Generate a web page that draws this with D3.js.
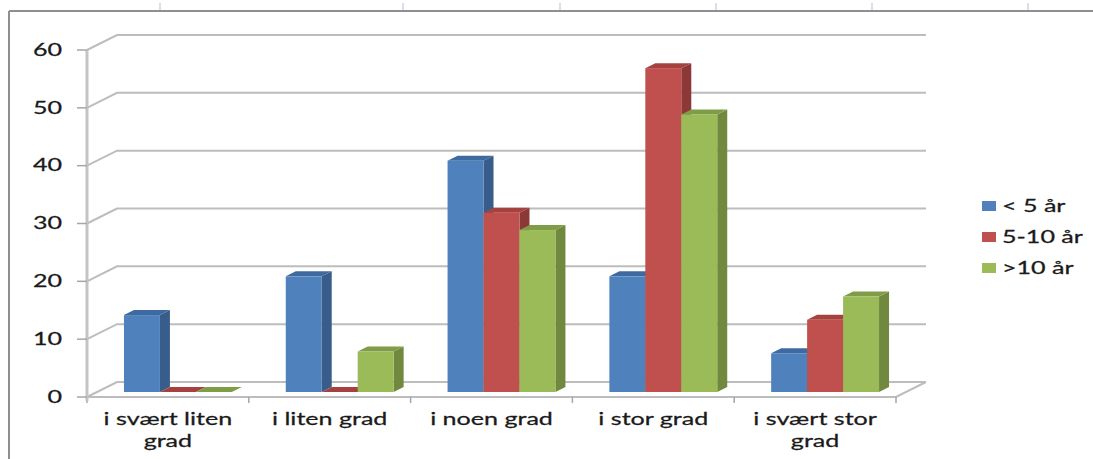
<!DOCTYPE html>
<html>
<head>
<meta charset="utf-8">
<script src="https://cdn.jsdelivr.net/npm/d3@7"></script>
<style>
  body { margin: 0; background: #fff; }
  svg { display: block; }
  text { font-family: Lato, "Liberation Sans", sans-serif; fill: #1a1a1a; stroke: #1a1a1a; stroke-width: 0.25px; }
</style>
</head>
<body>
<div id="chart"></div>
<script>
// data
var categories = ["i svært liten grad", "i liten grad", "i noen grad", "i stor grad", "i svært stor grad"];
var categoryLines = [["i svært liten", "grad"], ["i liten grad"], ["i noen grad"], ["i stor grad"], ["i svært stor", "grad"]];
var series = ["< 5 år", "5-10 år", ">10 år"];
var under5 = [13.3, 20, 40, 20, 6.7];
var from5to10 = [0, 0, 31, 56, 12.5];
var over10 = [0, 7, 28, 48, 16.5];
var yTicks = [0, 10, 20, 30, 40, 50, 60];

var values = [under5, from5to10, over10];
var front = ["#4f81bd", "#c0504d", "#9bbb59"];
var side = ["#385d8a", "#8c3836", "#71893f"];
var top_ = ["#3f6aa0", "#a5423f", "#7f9c47"];

var width = 1093, height = 459;
var depthX = 30, depthY = 15;   // floor depth
var textStretch = 1.52;

var svg = d3.select("#chart").append("svg")
  .attr("width", width)
  .attr("height", height);

var x = d3.scaleBand().domain(categories).range([87, 896]);
var y = d3.scaleLinear().domain([0, 60]).range([397, 50]);
var barW = x.bandwidth() / 4.5;
var groupOff = (x.bandwidth() - 3 * barW) / 2;

// outer frame remnants
svg.append("line").attr("x1", 9).attr("y1", 11).attr("x2", width).attr("y2", 11)
  .attr("stroke", "#8f8f8f").attr("stroke-width", 2);
svg.append("line").attr("x1", 9).attr("y1", 11).attr("x2", 9).attr("y2", height)
  .attr("stroke", "#8f8f8f").attr("stroke-width", 2);
[160, 403, 560, 716, 872, 1028].forEach(function(tx) {
  svg.append("line").attr("x1", tx).attr("y1", 3).attr("x2", tx).attr("y2", 10)
    .attr("stroke", "#c9d5e6").attr("stroke-width", 1.5);
});

// back wall gridlines + side wall diagonals
var grid = svg.append("g");
yTicks.forEach(function(t) {
  var yy = y(t);
  grid.append("path")
    .attr("d", "M" + x.range()[0] + "," + yy + "L" + (x.range()[0] + depthX) + "," + (yy - depthY) +
      "L" + (x.range()[1] + depthX) + "," + (yy - depthY))
    .attr("fill", "none").attr("stroke", "#bdbdbd").attr("stroke-width", 2);
});

// floor front edge
var x0 = x.range()[0], x1 = x.range()[1];
svg.append("path")
  .attr("d", "M" + x0 + "," + y(0) + "L" + x1 + "," + y(0) + "L" + (x1 + depthX) + "," + (y(0) - depthY))
  .attr("fill", "none").attr("stroke", "#bdbdbd").attr("stroke-width", 2);

// category ticks
categories.concat([null]).forEach(function(c, i) {
  var tx = x0 + i * x.step();
  svg.append("line").attr("x1", tx).attr("y1", y(0)).attr("x2", tx).attr("y2", y(0) + 6)
    .attr("stroke", "#a6a6a6").attr("stroke-width", 1.5);
});

// value axis
svg.append("line").attr("x1", x0).attr("y1", y(60)).attr("x2", x0).attr("y2", y(0) + 4)
  .attr("stroke", "#c4c4c4").attr("stroke-width", 3);
yTicks.forEach(function(t) {
  svg.append("line").attr("x1", x0 - 10).attr("y1", y(t)).attr("x2", x0).attr("y2", y(t))
    .attr("stroke", "#a6a6a6").attr("stroke-width", 1.5);
  svg.append("text")
    .attr("transform", "translate(62," + y(t) + ") scale(" + textStretch + ",1)")
    .attr("text-anchor", "end").attr("dy", "0.35em")
    .style("font-size", "16.5px")
    .text(t);
});

// bars: front face sits at one third of the floor depth
var bdx = depthX / 3, bdy = depthY / 3;
var bars = svg.append("g");
categories.forEach(function(c, ci) {
  series.forEach(function(s, si) {
    var v = values[si][ci];
    var bx = x(c) + groupOff + si * barW + bdx;
    var by0 = y(0) - bdy;
    var byT = y(v) - bdy;
    var g = bars.append("g");
    // right side
    g.append("path")
      .attr("d", "M" + (bx + barW) + "," + byT + "L" + (bx + barW + bdx) + "," + (byT - bdy) +
        "L" + (bx + barW + bdx) + "," + (by0 - bdy) + "L" + (bx + barW) + "," + by0 + "Z")
      .attr("fill", side[si]);
    // top
    g.append("path")
      .attr("d", "M" + bx + "," + byT + "L" + (bx + barW) + "," + byT + "L" + (bx + barW + bdx) + "," + (byT - bdy) +
        "L" + (bx + bdx) + "," + (byT - bdy) + "Z")
      .attr("fill", top_[si]);
    // front
    if (v > 0) {
      g.append("rect")
        .attr("x", bx).attr("y", byT)
        .attr("width", barW).attr("height", by0 - byT)
        .attr("fill", front[si]);
    }
  });
});

// category labels
categories.forEach(function(c, ci) {
  var cx = x(c) + x.bandwidth() / 2;
  categoryLines[ci].forEach(function(line, li) {
    svg.append("text")
      .attr("transform", "translate(" + cx + "," + (419 + li * 22) + ") scale(" + textStretch + ",1)")
      .attr("text-anchor", "middle").attr("dy", "0.35em")
      .style("font-size", "16.5px")
      .text(line);
  });
});

// legend
var legend = svg.append("g");
series.forEach(function(s, i) {
  var ly = 206 + i * 31;
  legend.append("rect").attr("x", 982).attr("y", ly - 5).attr("width", 14).attr("height", 10)
    .attr("fill", front[i]);
  legend.append("text")
    .attr("transform", "translate(1002," + ly + ") scale(" + textStretch + ",1)")
    .attr("dy", "0.35em")
    .style("font-size", "16.5px")
    .text(s);
});
</script>
</body>
</html>
